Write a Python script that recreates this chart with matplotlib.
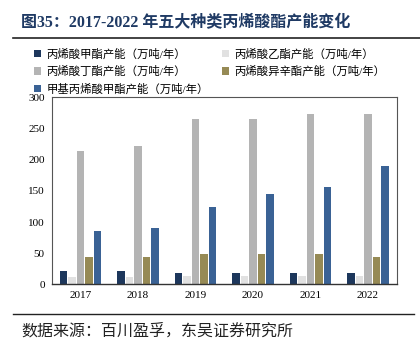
"""2017-2022 年五大种类丙烯酸酯产能变化 bar chart."""

import matplotlib

matplotlib.use("Agg")
import matplotlib.pyplot as plt
import numpy as np
from matplotlib.lines import Line2D
from matplotlib.patches import Patch

YEARS = ["2017", "2018", "2019", "2020", "2021", "2022"]
SERIES_NAMES = [
    "丙烯酸甲酯产能（万吨/年）",
    "丙烯酸乙酯产能（万吨/年）",
    "丙烯酸丁酯产能（万吨/年）",
    "丙烯酸异辛酯产能（万吨/年）",
    "甲基丙烯酸甲酯产能（万吨/年）",
]
methyl_acrylate = [21, 21, 18, 18, 18, 18]
ethyl_acrylate = [11, 11, 14, 13, 13, 13]
butyl_acrylate = [214, 222, 266, 266, 274, 274]
octyl_acrylate = [44, 44, 49, 49, 49, 44]
methyl_methacrylate = [85, 90, 124, 145, 157, 190]

COLORS = ["#1d375c", "#e1e1e1", "#b4b4b4", "#968a55", "#3a6295"]

CJK = ["Liberation Serif", "Noto Sans CJK SC"]
TITLE_COLOR = "#1f3a64"


def main() -> None:
    fig = plt.figure(figsize=(4.2, 3.48), dpi=100)
    ax = fig.add_axes([0.123, 0.183, 0.8215, 0.537])

    series = [methyl_acrylate, ethyl_acrylate, butyl_acrylate, octyl_acrylate, methyl_methacrylate]
    x = np.arange(len(YEARS))
    pitch = 0.148
    width = 0.135
    for i, (values, color) in enumerate(zip(series, COLORS)):
        ax.bar(x + (i - 2) * pitch, values, width=width, color=color, zorder=2)

    ax.set_xlim(-0.5, len(YEARS) - 0.5)
    ax.set_ylim(0, 300)
    ax.set_yticks(range(0, 301, 50))
    ax.set_xticks(x)
    ax.set_xticklabels(YEARS)
    ax.tick_params(length=0, labelsize=8, pad=5)
    for label in ax.get_xticklabels() + ax.get_yticklabels():
        label.set_family("Liberation Serif")
    for side in ["top", "right", "left"]:
        ax.spines[side].set_color("#555555")
        ax.spines[side].set_linewidth(0.8)
    ax.spines["bottom"].set_color("#333333")
    ax.spines["bottom"].set_linewidth(1.0)

    handles = [Patch(facecolor=c, edgecolor="none") for c in COLORS]
    order = [0, 2, 4, 1, 3]
    fig.legend(
        [handles[i] for i in order],
        [SERIES_NAMES[i] for i in order],
        loc="upper left",
        bbox_to_anchor=(0.082, 0.862),
        ncol=2,
        frameon=False,
        prop={"family": CJK, "size": 8.2},
        handlelength=0.6,
        handleheight=0.6,
        handletextpad=0.45,
        columnspacing=1.2,
        labelspacing=0.55,
        borderaxespad=0,
        borderpad=0,
    )

    fig.text(
        0.05, 0.935, "图35：2017-2022 年五大种类丙烯酸酯产能变化",
        family=CJK, fontsize=11.5, fontweight="bold", color=TITLE_COLOR, va="center",
    )
    fig.add_artist(Line2D([0.03, 1.0], [0.89, 0.89], color="#222222", linewidth=1.2))
    fig.add_artist(Line2D([0.03, 0.985], [0.098, 0.098], color="#222222", linewidth=1.0))
    fig.text(
        0.052, 0.047, "数据来源：百川盈孚，东吴证券研究所",
        family=CJK, fontsize=11.5, color="#222222", va="center",
    )

    fig.savefig("out.png", dpi=100)
    plt.close(fig)


if __name__ == "__main__":
    main()
